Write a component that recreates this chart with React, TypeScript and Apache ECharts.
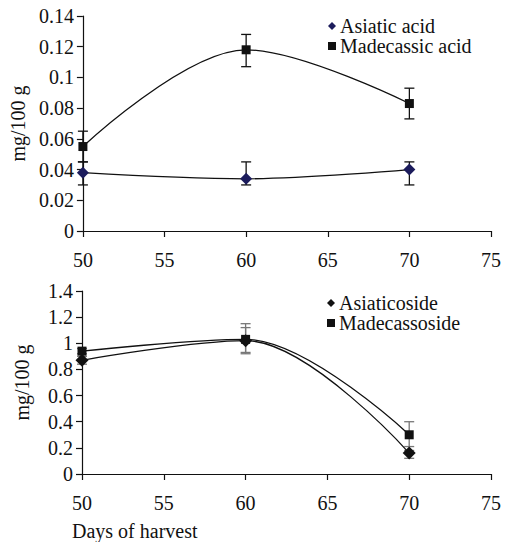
import React, { useEffect, useRef } from "react";
import * as echarts from "echarts";

const days = [50, 60, 70];
const asiaticAcid = [0.038, 0.034, 0.040];
const asiaticAcidErr = [[0.030, 0.045], [0.030, 0.045], [0.030, 0.045]];
const madecassicAcid = [0.055, 0.118, 0.083];
const madecassicAcidErr = [[0.045, 0.065], [0.107, 0.128], [0.073, 0.093]];
const asiaticoside = [0.87, 1.02, 0.16];
const asiaticosideErr = [[0.84, 0.90], [0.93, 1.12], [0.12, 0.18]];
const madecassoside = [0.94, 1.03, 0.30];
const madecassosideErr = [[0.92, 0.96], [0.92, 1.15], [0.21, 0.40]];

const FONT = "'Liberation Serif', 'Times New Roman', serif";

function pairs(vals: number[]) {
  return days.map((d, i) => [d, vals[i]]);
}
function errs(e: number[][]) {
  return days.map((d, i) => [d, e[i][0], e[i][1]]);
}

function errSeries(data: number[][], gridIdx: number, color: string) {
  return {
    type: "custom",
    xAxisIndex: gridIdx,
    yAxisIndex: gridIdx,
    z: 1,
    silent: true,
    data,
    encode: { x: 0, y: [1, 2] },
    renderItem: (params: any, api: any) => {
      const x = api.value(0);
      const lo = api.coord([x, api.value(1)]);
      const hi = api.coord([x, api.value(2)]);
      const w = 5;
      const style = { stroke: color, lineWidth: 1.3 };
      return {
        type: "group",
        children: [
          { type: "line", shape: { x1: lo[0], y1: lo[1], x2: hi[0], y2: hi[1] }, style },
          { type: "line", shape: { x1: lo[0] - w, y1: lo[1], x2: lo[0] + w, y2: lo[1] }, style },
          { type: "line", shape: { x1: hi[0] - w, y1: hi[1], x2: hi[0] + w, y2: hi[1] }, style },
        ],
      };
    },
  };
}

function lineSeries(name: string, vals: number[], gridIdx: number, symbol: string, size: number, smooth: number, legendColor?: string) {
  return {
    name,
    type: "line",
    xAxisIndex: gridIdx,
    yAxisIndex: gridIdx,
    data: pairs(vals),
    smooth,
    symbol,
    symbolSize: size,
    z: 3,
    lineStyle: { color: "#111", width: 1.3 },
    itemStyle: { color: legendColor || "#111" },
  };
}

export default function App() {
  const ref = useRef<HTMLDivElement>(null);
  useEffect(() => {
    if (!ref.current) return;
    const chart = echarts.init(ref.current, undefined, { renderer: "svg" });
    const axisCommon = {
      axisLine: { show: true, lineStyle: { color: "#111", width: 1.2 } },
      axisTick: { show: true, inside: false, length: 6, lineStyle: { color: "#111", width: 1.2 } },
      splitLine: { show: false },
    };
    const xAxis = (gi: number) => ({
      type: "value",
      gridIndex: gi,
      min: 50,
      max: 75,
      interval: 5,
      ...axisCommon,
      axisLabel: { color: "#111", fontFamily: FONT, fontSize: 20, margin: 19 },
    });
    const yAxis = (gi: number, max: number, interval: number) => ({
      type: "value",
      gridIndex: gi,
      min: 0,
      max,
      interval,
      ...axisCommon,
      name: "mg/100 g",
      nameLocation: "middle",
      nameRotate: 90,
      nameGap: 50,
      nameTextStyle: { color: "#111", fontFamily: FONT, fontSize: 20 },
      axisLabel: { color: "#111", fontFamily: FONT, fontSize: 20, margin: 9 },
    });
    const legendText = { color: "#111", fontFamily: FONT, fontSize: 20, padding: [0, 0, 0, -1] };
    chart.setOption({
      animation: false,
      backgroundColor: "#fff",
      grid: [
        { left: 82, right: 19, top: 16, height: 215 },
        { left: 82, right: 19, top: 291, height: 183 },
      ],
      xAxis: [xAxis(0), xAxis(1)],
      yAxis: [yAxis(0, 0.14, 0.02), yAxis(1, 1.4, 0.2)],
      legend: [
        {
          data: [
            { name: "Asiatic acid", icon: "diamond" },
            { name: "Madecassic acid", icon: "rect" },
          ],
          orient: "vertical",
          left: 323,
          top: 11,
          itemWidth: 8,
          itemHeight: 8,
          itemGap: 0,
          textStyle: legendText,
        },
        {
          data: [
            { name: "Asiaticoside", icon: "diamond" },
            { name: "Madecassoside", icon: "rect" },
          ],
          orient: "vertical",
          left: 322,
          top: 288,
          itemWidth: 8,
          itemHeight: 8,
          itemGap: 0,
          textStyle: legendText,
        },
      ],
      graphic: [
        {
          type: "text",
          left: 72,
          top: 521,
          style: { text: "Days of harvest", fill: "#111", font: `20px ${FONT}` },
        },
      ],
      series: [
        errSeries(errs(asiaticAcidErr), 0, "#111"),
        errSeries(errs(madecassicAcidErr), 0, "#111"),
        errSeries(errs(asiaticosideErr), 1, "#777"),
        errSeries(errs(madecassosideErr), 1, "#777"),
        lineSeries("Asiatic acid", asiaticAcid, 0, "diamond", 12, 0.35, "#1c1c5c"),
        lineSeries("Madecassic acid", madecassicAcid, 0, "rect", 9, 0.35),
        lineSeries("Asiaticoside", asiaticoside, 1, "diamond", 13, 0.35),
        lineSeries("Madecassoside", madecassoside, 1, "rect", 9, 0.35),
      ],
    });
    return () => chart.dispose();
  }, []);
  return <div ref={ref} style={{ width: 510, height: 542, position: "absolute", left: 0, top: 0 }} />;
}
